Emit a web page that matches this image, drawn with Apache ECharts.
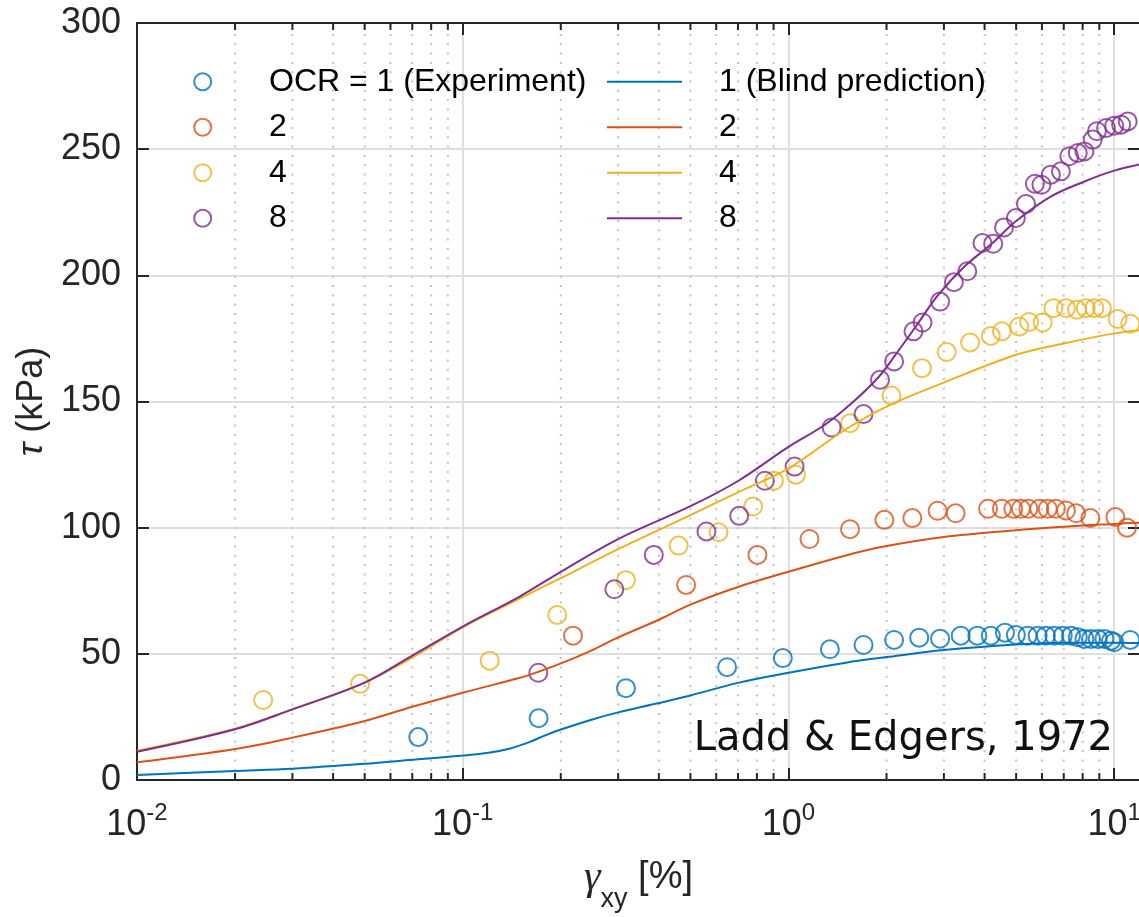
<!DOCTYPE html>
<html>
<head>
<meta charset="utf-8">
<script src="https://cdn.jsdelivr.net/npm/echarts@6/dist/echarts.min.js"></script>
<style>
  html, body { margin: 0; padding: 0; background: #ffffff; }
  #chart { width: 1139px; height: 917px; }
</style>
</head>
<body>
<div id="chart"></div>
<script>
// Shear strain gamma_xy [%] vs shear stress tau [kPa] for OCR = 1, 2, 4, 8

// Experimental points [gamma_xy (%), tau (kPa)]
const exp1 = [[0.073,17.0],[0.171,24.5],[0.317,36.4],[0.648,44.7],[0.961,48.3],[1.34,51.8],[1.70,53.5],[2.11,55.5],[2.52,56.4],[2.92,56.0],[3.38,57.2],[3.80,57.2],[4.18,57.2],[4.62,58.4],[4.99,57.5],[5.42,57.2],[5.82,57.2],[6.17,57.2],[6.55,57.2],[6.95,57.2],[7.37,57.2],[7.73,56.6],[8.10,55.9],[8.49,55.9],[8.90,55.9],[9.33,55.9],[9.78,55.2],[10.0,54.6],[11.2,55.5]];
const exp2 = [[0.218,57.2],[0.485,77.3],[0.803,89.2],[1.16,95.5],[1.545,99.4],[1.97,103.1],[2.40,103.8],[2.87,106.7],[3.26,105.7],[4.10,107.5],[4.52,107.5],[4.90,107.5],[5.17,107.5],[5.45,107.5],[5.89,107.5],[6.25,107.5],[6.62,107.5],[7.11,106.8],[7.64,105.7],[8.45,103.8],[10.08,104.2],[10.95,100.0]];
const exp4 = [[0.0244,31.7],[0.0484,38.1],[0.121,47.3],[0.195,65.4],[0.317,79.2],[0.460,92.9],[0.610,98.2],[0.779,108.4],[0.902,118.6],[1.054,121.0],[1.545,141.4],[2.07,152.4],[2.57,163.2],[3.06,169.6],[3.61,173.4],[4.18,176.0],[4.52,177.8],[5.11,179.7],[5.48,181.5],[6.03,181.3],[6.51,187.0],[7.11,187.0],[7.69,186.4],[8.18,187.0],[8.69,187.0],[9.17,187.0],[10.25,182.7],[11.2,180.8]];
const exp8 = [[0.1706,42.5],[0.292,75.6],[0.386,89.2],[0.560,98.5],[0.706,104.7],[0.846,118.6],[1.044,124.2],[1.357,139.7],[1.70,145.0],[1.91,158.6],[2.11,165.9],[2.42,177.8],[2.58,181.3],[2.92,189.6],[3.22,197.3],[3.54,201.6],[3.94,212.8],[4.25,212.5],[4.59,219.0],[4.99,222.7],[5.36,228.3],[5.71,236.3],[5.98,235.9],[6.39,239.9],[6.86,241.2],[7.28,247.2],[7.73,248.5],[8.10,249.1],[8.59,253.8],[8.85,257.1],[9.44,258.4],[10.0,259.3],[10.5,259.7],[11.0,261.0]];

// Blind prediction curves [gamma_xy (%), tau (kPa)]
const pred1 = [[0.01,2.0],[0.02,3.6],[0.03,4.5],[0.05,6.4],[0.07,8.0],[0.1,9.7],[0.12,10.8],[0.14,12.5],[0.16,15.0],[0.18,17.8],[0.2,20.0],[0.25,24.0],[0.3,26.8],[0.4,30.5],[0.5,33.5],[0.7,38.5],[1,42.5],[1.5,46.5],[2,48.7],[3,51.5],[5,53.7],[7,54.4],[10,54.4],[12,54.3]];
const pred2 = [[0.01,7.0],[0.02,12.3],[0.03,16.8],[0.05,23.4],[0.07,29.0],[0.1,34.6],[0.15,40.5],[0.17,42.8],[0.2,46.2],[0.25,51.5],[0.3,56.5],[0.4,63.5],[0.5,69.5],[0.7,76.5],[1,82.5],[1.5,89.0],[2,92.7],[3,96.3],[5,99.0],[7,100.4],[10,101.5],[12,102.0]];
const pred4 = [[0.01,11.6],[0.02,20.3],[0.03,28.0],[0.05,38.6],[0.07,48.5],[0.1,60.5],[0.15,72.0],[0.2,80.0],[0.3,91.5],[0.5,105.0],[0.7,114.0],[1,123.5],[1.5,139.0],[2,148.0],[3,157.5],[5,168.5],[7,173.0],[10,177.0],[12,178.3]];
const pred8 = [[0.01,11.2],[0.02,20.1],[0.03,28.0],[0.05,38.6],[0.07,49.3],[0.1,60.8],[0.15,72.8],[0.2,82.5],[0.3,95.5],[0.5,108.5],[0.7,118.5],[1,132.0],[1.3,141.0],[1.6,150.5],[1.9,160.0],[2.2,171.0],[2.5,181.0],[2.87,192.0],[3.47,203.5],[4.18,212.2],[5,221.5],[6.4,231.3],[8.1,237.2],[10,241.5],[12,244.0]];

// Legend texts
const expLabels = ['OCR = 1 (Experiment)', '2', '4', '8'];
const predLabels = ['1 (Blind prediction)', '2', '4', '8'];

// Minor (log) tick positions between decades
const minorTicks = [0.02,0.03,0.04,0.05,0.06,0.07,0.08,0.09,0.2,0.3,0.4,0.5,0.6,0.7,0.8,0.9,2,3,4,5,6,7,8,9];

const FONT = '"Liberation Sans", Arial, Helvetica, sans-serif';
const SERIF = '"Liberation Serif", "DejaVu Serif", serif';
const AXIS = '#262626';
const GRID = '#dfdfdf';
const COLORS = ['#0072BD', '#D95319', '#EDB120', '#7E2F8E'];
const Y_MIN = 0, Y_MAX = 300;

const expSets = [exp1, exp2, exp4, exp8];
const predSets = [pred1, pred2, pred4, pred8];
const labelOf = {};
expSets.forEach((_, i) => { labelOf['exp' + i] = expLabels[i]; });
predSets.forEach((_, i) => { labelOf['pred' + i] = predLabels[i]; });

function powerLabel(v) {
  const lg = Math.log10(v);
  const e = Math.round(lg);
  if (Math.abs(lg - e) > 1e-6) return '';
  return '{b|10}{s|' + e + '}';
}

// dotted minor grid plus short inward minor ticks on bottom and top axes
function renderMinor(params, api) {
  const v = api.value(0);
  const b = api.coord([v, Y_MIN]);
  const t = api.coord([v, Y_MAX]);
  return {
    type: 'group',
    children: [
      { type: 'line', shape: { x1: b[0], y1: b[1], x2: t[0], y2: t[1] },
        style: { stroke: '#c2c2c2', lineWidth: 2, lineDash: [2, 7.3] } },
      { type: 'line', shape: { x1: b[0], y1: b[1], x2: b[0], y2: b[1] - 7 },
        style: { stroke: AXIS, lineWidth: 2 } },
      { type: 'line', shape: { x1: t[0], y1: t[1], x2: t[0], y2: t[1] + 7 },
        style: { stroke: AXIS, lineWidth: 2 } }
    ]
  };
}

const axisLineStyle = { show: true, onZero: false, lineStyle: { color: AXIS, width: 2 } };
const axisTickStyle = { show: true, inside: true, length: 12, lineStyle: { color: AXIS, width: 2 } };

const series = [
  {
    type: 'custom', name: 'minor', silent: true, z: 1,
    xAxisIndex: 0, yAxisIndex: 0,
    data: minorTicks.map(v => [v, Y_MIN]),
    encode: { x: 0, y: 1 },
    renderItem: renderMinor
  }
];
expSets.forEach((d, i) => {
  series.push({
    type: 'scatter', name: 'exp' + i, data: d, z: 3,
    symbol: 'circle', symbolSize: 18,
    itemStyle: { color: 'rgba(0,0,0,0)', borderColor: COLORS[i], borderWidth: 2 }
  });
});
predSets.forEach((d, i) => {
  series.push({
    type: 'line', name: 'pred' + i, data: d, z: 4,
    showSymbol: false, symbol: 'none',
    smooth: 0.35,
    lineStyle: { color: COLORS[i], width: 2 },
    itemStyle: { color: COLORS[i] }
  });
});

const legendText = {
  fontFamily: FONT, fontSize: 32, color: '#000', lineHeight: 36
};

const option = {
  animation: false,
  backgroundColor: '#ffffff',
  grid: { left: 137, top: 23, width: 1003, height: 757, containLabel: false, outerBoundsMode: 'none' },
  legend: [
    {
      show: true, orient: 'vertical', left: 193.2, top: 63.7, padding: 0,
      itemWidth: 17, itemHeight: 17, itemGap: 9.5,
      data: expSets.map((_, i) => ({
        name: 'exp' + i, icon: 'circle',
        itemStyle: { color: 'rgba(0,0,0,0)', borderColor: COLORS[i], borderWidth: 2 }
      })),
      formatter: name => labelOf[name],
      textStyle: Object.assign({ padding: [0, 0, 0, 52.8] }, legendText),
      selectedMode: false
    },
    {
      show: true, orient: 'vertical', left: 606, top: 63.7, padding: 0,
      itemWidth: 75, itemHeight: 17, itemGap: 9.5,
      data: predSets.map((_, i) => ({
        name: 'pred' + i,
        itemStyle: { color: 'rgba(0,0,0,0)', borderColor: 'rgba(0,0,0,0)', borderWidth: 0, opacity: 0 },
        lineStyle: { color: COLORS[i], width: 2, opacity: 1 }
      })),
      formatter: name => labelOf[name],
      textStyle: Object.assign({ padding: [0, 0, 0, 32] }, legendText),
      selectedMode: false
    }
  ],
  xAxis: [
    {
      type: 'log', logBase: 10, min: 0.01, max: 12, position: 'bottom',
      axisLine: axisLineStyle, axisTick: axisTickStyle,
      axisLabel: {
        margin: 24, formatter: powerLabel, color: AXIS,
        rich: {
          b: { fontFamily: FONT, fontSize: 36, lineHeight: 42, color: AXIS },
          s: { fontFamily: FONT, fontSize: 24, lineHeight: 27, padding: [0, 0, 24, 0], color: AXIS }
        }
      },
      splitLine: { show: true, lineStyle: { color: GRID, width: 2 } },
      name: '{g|γ}{s|xy} [%]', nameLocation: 'middle', nameGap: 62,
      nameTextStyle: {
        color: AXIS, fontFamily: FONT, fontSize: 38,
        rich: {
          g: { fontFamily: SERIF, fontSize: 42, fontStyle: 'italic', color: AXIS },
          s: { fontFamily: FONT, fontSize: 27, padding: [44, 0, 0, 0], color: AXIS }
        }
      }
    },
    {
      type: 'log', logBase: 10, min: 0.01, max: 12, position: 'top',
      axisLine: axisLineStyle, axisTick: axisTickStyle,
      axisLabel: { show: false }, splitLine: { show: false }
    }
  ],
  yAxis: [
    {
      type: 'value', min: Y_MIN, max: Y_MAX, interval: 50, position: 'left',
      axisLine: axisLineStyle, axisTick: axisTickStyle,
      axisLabel: { margin: 16, color: AXIS, fontFamily: FONT, fontSize: 36 },
      splitLine: { show: true, lineStyle: { color: GRID, width: 2 } },
      name: '{i|τ} (kPa)', nameLocation: 'middle', nameRotate: 90, nameGap: 85,
      nameTextStyle: {
        color: AXIS, fontFamily: FONT, fontSize: 36,
        rich: { i: { fontFamily: FONT, fontSize: 36, fontStyle: 'italic', color: AXIS } }
      }
    },
    {
      type: 'value', min: Y_MIN, max: Y_MAX, interval: 50, position: 'right',
      axisLine: axisLineStyle, axisTick: axisTickStyle,
      axisLabel: { show: false }, splitLine: { show: false }
    }
  ],
  graphic: [
    {
      type: 'text', x: 1113, y: 740, z: 10,
      style: {
        text: 'Ladd & Edgers, 1972', fill: '#111',
        fontFamily: '"DejaVu Sans", sans-serif', fontSize: 40,
        align: 'right', verticalAlign: 'middle'
      }
    }
  ],
  series: series
};

const chart = echarts.init(document.getElementById('chart'));
chart.setOption(option);
</script>
</body>
</html>
